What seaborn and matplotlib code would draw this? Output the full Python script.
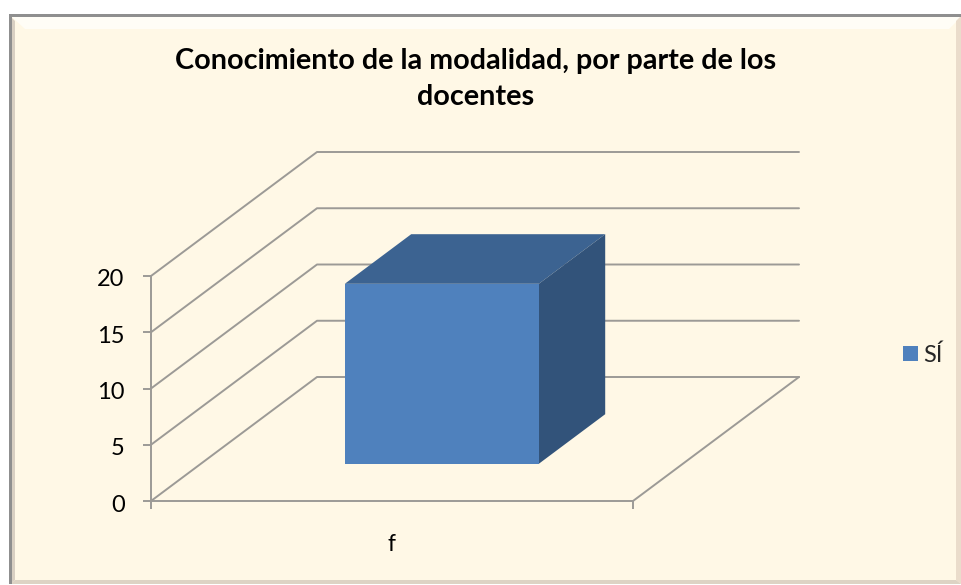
import matplotlib
matplotlib.use("Agg")
import matplotlib.pyplot as plt
from matplotlib.patches import Polygon, Rectangle
from matplotlib.transforms import Affine2D, ScaledTranslation
import pandas as pd
import seaborn as sns

categories = ["f"]
values = [16]
series_name = "SÍ"
y_ticks = [0, 5, 10, 15, 20]
title = "Conocimiento de la modalidad, por parte de los\ndocentes"

W, H = 961, 585
BG = "#FFF8E6"
GRID = "#9C9A96"
FRONT = "#4F81BD"
TOP = "#3C6391"
SIDE = "#32537A"

sns.set_theme(style="white")
plt.rcParams["font.family"] = ["Lato", "DejaVu Sans"]

fig = plt.figure(figsize=(W / 100, H / 100), dpi=100, facecolor="white")


def box(x0, y0, x1, y1):
    # pixel box (top-left origin) to figure fractions
    return [x0 / W, 1 - y1 / H, (x1 - x0) / W, (y1 - y0) / H]


def frac(points):
    return [(x / W, 1 - y / H) for x, y in points]


b = box(10, 16, 961, 584)
fig.patches.append(Rectangle((b[0], b[1]), b[2], b[3], transform=fig.transFigure, facecolor=BG, edgecolor="none", zorder=0))
# bevel of the chart area
bevels = [
    ([(12, 17), (961, 17), (949, 29), (25, 29)], "#FFFDF6"),
    ([(10, 16), (15, 21), (15, 580), (10, 584)], "#D8CFC2"),
    ([(961, 16), (956, 21), (956, 580), (961, 584)], "#EADCCB"),
    ([(10, 584), (15, 580), (956, 580), (961, 584)], "#DDD3C4"),
]
for pts, col in bevels:
    fig.patches.append(Polygon(frac(pts), closed=True, transform=fig.transFigure, facecolor=col, edgecolor="none", zorder=0.5))
# darker lines only on top and left, bottom and right are soft
fig.patches.append(Rectangle((9 / W, 1 - 17 / H), 952 / W, 3 / H, transform=fig.transFigure, facecolor="#8F8F8F", edgecolor="none", zorder=1))
fig.patches.append(Rectangle((9 / W, 1 - 584 / H), 3 / W, 569 / H, transform=fig.transFigure, facecolor="#8F8F8F", edgecolor="none", zorder=1))

ax = fig.add_axes(box(151, 276, 633, 501))
ax.set_zorder(5)
ax.patch.set_alpha(0)

df = pd.DataFrame({"cat": categories, "val": values})
sns.barplot(data=df, x="cat", y="val", ax=ax, color=FRONT, saturation=1, width=0.4025, zorder=5, edgecolor="none", linewidth=0)
ax.set_xlim(-0.5, 0.5)
ax.set_ylim(0, 20)
ax.set_xlabel("")
ax.set_ylabel("")

# fake depth of the 3D box, in data units
dep_x = 166 / 482
dep_y = 124 / 225 * 20

for t in y_ticks:
    ax.plot([-0.5, -0.5 + dep_x, 0.5 + dep_x], [t, t + dep_y, t + dep_y], color=GRID, lw=1.4, clip_on=False, zorder=2)
ax.plot([0.5, 0.5 + dep_x], [0, dep_y], color=GRID, lw=1.4, clip_on=False, zorder=2)

# bar sits at 30% of the depth and takes 40% of it
bar = ax.patches[0]
sx, sy = dep_x * 0.3, dep_y * 0.3
bar.set_transform(Affine2D().translate(sx, sy) + ax.transData)
bar.set_clip_on(False)
x0, x1 = bar.get_x() + sx, bar.get_x() + bar.get_width() + sx
y0, y1 = sy, values[0] + sy
ox, oy = dep_x * 0.4, dep_y * 0.4
ax.add_patch(Polygon([(x0, y1), (x1, y1), (x1 + ox, y1 + oy), (x0 + ox, y1 + oy)], facecolor=TOP, edgecolor="none", clip_on=False, zorder=4))
ax.add_patch(Polygon([(x1, y0), (x1, y1), (x1 + ox, y1 + oy), (x1 + ox, y0 + oy)], facecolor=SIDE, edgecolor="none", clip_on=False, zorder=4))

ax.set_yticks(y_ticks)
ax.set_xticks([0])
ax.set_xticklabels(categories)
ax.set_xticks([-0.5, 0.5], minor=True)
ax.tick_params(axis="x", which="major", length=0, pad=24, labelsize=16.5, labelcolor="black")
ax.tick_params(axis="x", which="minor", length=6, width=1.4, color=GRID, bottom=True)
ax.tick_params(axis="y", length=6, width=1.4, color=GRID, left=True, pad=13, labelsize=17, labelcolor="black")
# labels sit a little below their ticks
for lab in ax.get_yticklabels():
    lab.set_transform(lab.get_transform() + ScaledTranslation(0, -2 / 100, fig.dpi_scale_trans))
sns.despine(ax=ax, top=True, right=True)
for side in ["left", "bottom"]:
    ax.spines[side].set_color(GRID)
    ax.spines[side].set_linewidth(1.4)
    ax.spines[side].set_zorder(3)

fig.text(476 / W, 1 - 79 / H, title, ha="center", va="center", fontsize=20.7, fontweight="bold", color="black", linespacing=1.45)

handle = Rectangle((0, 0), 1, 1, facecolor=FRONT, edgecolor="none")
fig.legend([handle], [series_name], loc="center left", bbox_to_anchor=(884 / W, 1 - 355 / H), frameon=False,
           fontsize=17, handlelength=0.64, handleheight=0.64, handletextpad=0.2, borderpad=0.3)

fig.savefig("out.png", dpi=100)
